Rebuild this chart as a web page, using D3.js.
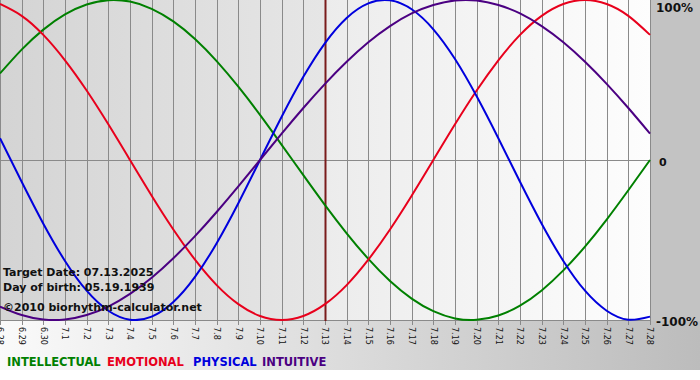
<!DOCTYPE html>
<html>
<head>
<meta charset="utf-8">
<script src="https://cdn.jsdelivr.net/npm/d3@7"></script>
<style>
  html, body { margin: 0; padding: 0; background: #fff; }
  svg { display: block; }
</style>
</head>
<body>
<svg id="chart" width="700" height="380"></svg>
<script>
// days shown on the x axis
var days = ["6.28", "6.29", "6.30", "7.1", "7.2", "7.3", "7.4", "7.5", "7.6", "7.7",
            "7.8", "7.9", "7.10", "7.11", "7.12", "7.13", "7.14", "7.15", "7.16", "7.17",
            "7.18", "7.19", "7.20", "7.21", "7.22", "7.23", "7.24", "7.25", "7.26", "7.27", "7.28"];

// cycle values per day, -1 .. 1
var physical = [0.136, -0.136, -0.398, -0.631, -0.817, -0.942, -0.998, -0.979, -0.888, -0.731,
                -0.520, -0.270, 0, 0.270, 0.520, 0.731, 0.888, 0.979, 0.998, 0.942,
                0.817, 0.631, 0.398, 0.136, -0.136, -0.398, -0.631, -0.817, -0.942, -0.998, -0.979];
var emotional = [0.975, 0.901, 0.782, 0.623, 0.434, 0.223, 0, -0.223, -0.434, -0.623,
                 -0.782, -0.901, -0.975, -1, -0.975, -0.901, -0.782, -0.623, -0.434, -0.223,
                 0, 0.223, 0.434, 0.623, 0.782, 0.901, 0.975, 1, 0.975, 0.901, 0.782];
var intellectual = [0.541, 0.690, 0.815, 0.910, 0.972, 0.999, 0.990, 0.945, 0.866, 0.756,
                    0.618, 0.458, 0.282, 0.095, -0.095, -0.282, -0.458, -0.618, -0.756, -0.866,
                    -0.945, -0.990, -0.999, -0.972, -0.910, -0.815, -0.690, -0.541, -0.372, -0.189, 0];
var intuitive = [-0.916, -0.969, -0.997, -0.997, -0.969, -0.916, -0.837, -0.736, -0.614, -0.476,
                 -0.325, -0.165, 0, 0.165, 0.325, 0.476, 0.614, 0.736, 0.837, 0.916,
                 0.969, 0.997, 0.997, 0.969, 0.916, 0.837, 0.736, 0.614, 0.476, 0.325, 0.165];

var targetDay = "7.13";
var yTicks = [1, 0, -1];
var yTickLabels = ["100%", "0", "-100%"];
var infoLines = ["Target Date: 07.13.2025", "Day of birth: 05.19.1939", "\u00a92010 biorhythm-calculator.net"];

var series = [
    {name: "INTELLECTUAL", color: "#008000", values: intellectual, lx: 7},
    {name: "EMOTIONAL", color: "#e8001c", values: emotional, lx: 107},
    {name: "PHYSICAL", color: "#0000dd", values: physical, lx: 193},
    {name: "INTUITIVE", color: "#4b0082", values: intuitive, lx: 262}
];

var plot_w = 651, plot_h = 321;
var svg = d3.select("#chart");

var x = d3.scalePoint().domain(days).range([0, 650]);
var y = d3.scaleLinear().domain([-1, 1]).range([320, 0]);
var tx = x(targetDay);

var defs = svg.append("defs");
function grad(id, c0, c1) {
    var g = defs.append("linearGradient").attr("id", id)
        .attr("x1", "0%").attr("x2", "100%").attr("y1", "0%").attr("y2", "0%");
    g.append("stop").attr("offset", "0%").attr("stop-color", c0);
    g.append("stop").attr("offset", "100%").attr("stop-color", c1);
}
grad("bg_grad", "#fafafa", "#bcbcbc");
grad("past_grad", "#d4d4d4", "#e6e6e6");
grad("future_grad", "#ececec", "#fdfdfd");
defs.append("clipPath").attr("id", "plot_clip")
    .append("rect").attr("x", 0).attr("y", 0).attr("width", plot_w).attr("height", plot_h);

// backgrounds
svg.append("rect").attr("width", 700).attr("height", 370).attr("fill", "url(#bg_grad)");
svg.append("rect").attr("x", plot_w).attr("y", 0).attr("width", 700 - plot_w).attr("height", plot_h)
    .attr("fill", "#c3c3c3");
svg.append("rect").attr("x", 0).attr("y", 0).attr("width", tx).attr("height", plot_h)
    .attr("fill", "url(#past_grad)");
svg.append("rect").attr("x", tx).attr("y", 0).attr("width", plot_w - tx).attr("height", plot_h)
    .attr("fill", "url(#future_grad)");

// grid, one line per day plus a short tick below
svg.append("g").attr("id", "grid")
    .selectAll("line")
    .data(days)
    .enter()
    .append("line")
    .attr("x1", function(d) { return Math.round(x(d)) + 0.5; })
    .attr("x2", function(d) { return Math.round(x(d)) + 0.5; })
    .attr("y1", 0)
    .attr("y2", 325)
    .attr("stroke", "#8a8a8a")
    .attr("stroke-width", 1);

svg.append("line")
    .attr("x1", 0).attr("x2", plot_w)
    .attr("y1", y(0) + 0.5).attr("y2", y(0) + 0.5)
    .attr("stroke", "#8a8a8a");
svg.append("line")
    .attr("x1", 0).attr("x2", plot_w)
    .attr("y1", y(-1) + 0.5).attr("y2", y(-1) + 0.5)
    .attr("stroke", "#8a8a8a");

// today marker
svg.append("line")
    .attr("x1", tx + 0.5).attr("x2", tx + 0.5)
    .attr("y1", 0).attr("y2", plot_h)
    .attr("stroke", "#7a1c1c")
    .attr("stroke-width", 2);

// curves
var line = d3.line()
    .x(function(d, i) { return x(days[i]); })
    .y(function(d) { return y(d); })
    .curve(d3.curveNatural);

svg.append("g").attr("clip-path", "url(#plot_clip)")
    .selectAll("path")
    .data(series)
    .enter()
    .append("path")
    .attr("d", function(d) { return line(d.values); })
    .attr("fill", "none")
    .attr("stroke", function(d) { return d.color; })
    .attr("stroke-width", 2);

// day labels, rotated
svg.append("g").attr("id", "day_labels")
    .selectAll("text")
    .data(days)
    .enter()
    .append("text")
    .attr("transform", function(d) { return "translate(" + x(d) + ",327) rotate(90)"; })
    .attr("dy", "0.35em")
    .attr("font-family", "DejaVu Sans, Verdana, sans-serif")
    .attr("font-size", "8px")
    .attr("fill", "#111")
    .text(function(d) { return d; });

// percentage labels
svg.append("g").attr("id", "y_labels")
    .selectAll("text")
    .data(yTicks)
    .enter()
    .append("text")
    .attr("x", function(d, i) { return i == 1 ? 659 : 656; })
    .attr("y", function(d) { return d == 1 ? 11.5 : y(d) + 6; })
    .attr("font-family", "DejaVu Sans, Verdana, sans-serif")
    .attr("font-size", function(d, i) { return i == 1 ? "11px" : "12px"; })
    .attr("font-weight", "bold")
    .attr("fill", "#111")
    .text(function(d, i) { return yTickLabels[i]; });

// info text
svg.append("g").attr("id", "info")
    .selectAll("text")
    .data(infoLines)
    .enter()
    .append("text")
    .attr("x", 3)
    .attr("y", function(d, i) { return [276, 291, 311][i]; })
    .attr("font-family", "DejaVu Sans, Verdana, sans-serif")
    .attr("font-size", "11px")
    .attr("font-weight", "bold")
    .attr("fill", "#111")
    .text(function(d) { return d; });

// legend
svg.append("g").attr("id", "legend")
    .selectAll("text")
    .data(series)
    .enter()
    .append("text")
    .attr("x", function(d) { return d.lx; })
    .attr("y", 366)
    .attr("font-family", "DejaVu Sans, Verdana, sans-serif")
    .attr("font-size", "11.5px")
    .attr("font-weight", "bold")
    .attr("fill", function(d) { return d.color; })
    .text(function(d) { return d.name; });
</script>
</body>
</html>
